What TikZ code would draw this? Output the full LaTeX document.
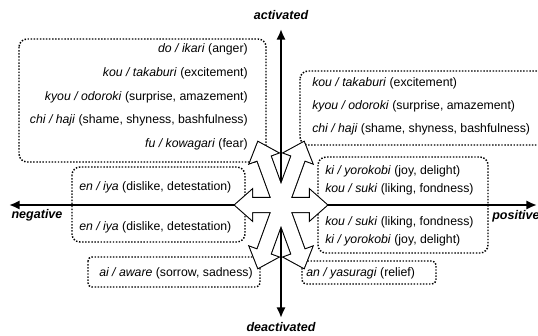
\documentclass[tikz,border=0pt]{standalone}
\usepackage{fontspec}
\setmainfont{Liberation Sans}
\usetikzlibrary{arrows.meta}

\begin{document}
\begin{tikzpicture}[x=0.75pt, y=-0.75pt,
    every node/.style={inner sep=0pt, font=\fontsize{9.2}{11}\selectfont},
    dotbox/.style={line width=1.1pt, dash pattern=on 1.1pt off 1.2pt, rounded corners=6pt},
    smallbox/.style={dotbox, rounded corners=3pt},
    mainaxis/.style={line width=2.2pt, {Latex[length=8pt,width=7pt]}-{Latex[length=8pt,width=7pt]}},
    axislabel/.style={font=\fontsize{9.4}{11}\selectfont\bfseries\itshape}]
      \clip (0,0) rectangle (538,335);

      % boxes
      \draw[dotbox] (19,39) rectangle (266,162);
      \draw[dotbox] (300,71) rectangle (550,145);
      \draw[dotbox] (72,167) rectangle (245,242);
      \draw[dotbox] (318,157) rectangle (488,253);
      \draw[smallbox] (88,257) rectangle (260,287);
      \draw[smallbox] (302,261) rectangle (436,284);

      % top left
      \node[anchor=base east] (do) at (248,53) {\textit{do / ikari} (anger)};
      \node[anchor=base east] (kou) at (248,76) {\textit{kou / takaburi} (excitement)};
      \node[anchor=base east] (kyou) at (248,100) {\textit{kyou / odoroki} (surprise, amazement)};
      \node[anchor=base east] (chi) at (248,123) {\textit{chi / haji} (shame, shyness, bashfulness)};
      \node[anchor=base east] (fu) at (248,147) {\textit{fu / kowagari} (fear)};

      % top right
      \node[anchor=base west] (kou2) at (312,86) {\textit{kou / takaburi} (excitement)};
      \node[anchor=base west] (kyou2) at (312,109) {\textit{kyou / odoroki} (surprise, amazement)};
      \node[anchor=base west] (chi2) at (312,132) {\textit{chi / haji} (shame, shyness, bashfulness)};

      % left
      \node[anchor=base west] (en) at (79,190) {\textit{en / iya} (dislike, detestation)};
      \node[anchor=base west] (en2) at (79,230) {\textit{en / iya} (dislike, detestation)};
      \node[anchor=base west] (ai) at (99,276) {\textit{ai / aware} (sorrow, sadness)};

      % right
      \node[anchor=base west] (ki) at (325,174) {\textit{ki / yorokobi} (joy, delight)};
      \node[anchor=base west] (suki) at (325,192) {\textit{kou / suki} (liking, fondness)};
      \node[anchor=base west] (suki2) at (325,225) {\textit{kou / suki} (liking, fondness)};
      \node[anchor=base west] (ki2) at (325,243) {\textit{ki / yorokobi} (joy, delight)};
      \node[anchor=base west] (an) at (306,276) {\textit{an / yasuragi} (relief)};

      % axes
      \coordinate (ctr) at (281,205);
      \coordinate (up) at (281,29);
      \coordinate (down) at (281,318);
      \coordinate (left) at (9,205);
      \coordinate (right) at (537,205);
      \draw[mainaxis] (down) -- (up);
      \draw[mainaxis] (left) -- (right);

      \node[axislabel] (act) at (281,15) {activated};
      \node[axislabel] (deact) at (281,327) {deactivated};
      \node[axislabel] (neg) at (37,215) {negative};
      \node[axislabel, anchor=west] (pos) at (492,216) {positive};

      % star: thick outline first, white fill on top
      \foreach \ang/\len in {0/46,180/46,70/67,110/67,250/67,290/67}
        \draw[line width=1.6pt, shift={(ctr)}, rotate=\ang] (0,-7) -- (\len-17,-7) -- (\len-17,-15) -- (\len,0) -- (\len-17,15) -- (\len-17,7) -- (0,7) -- cycle;
      \foreach \ang/\len in {0/46,180/46,70/67,110/67,250/67,290/67}
        \fill[white, shift={(ctr)}, rotate=\ang] (0,-7) -- (\len-17,-7) -- (\len-17,-15) -- (\len,0) -- (\len-17,15) -- (\len-17,7) -- (0,7) -- cycle;
    \end{tikzpicture}
\end{document}
